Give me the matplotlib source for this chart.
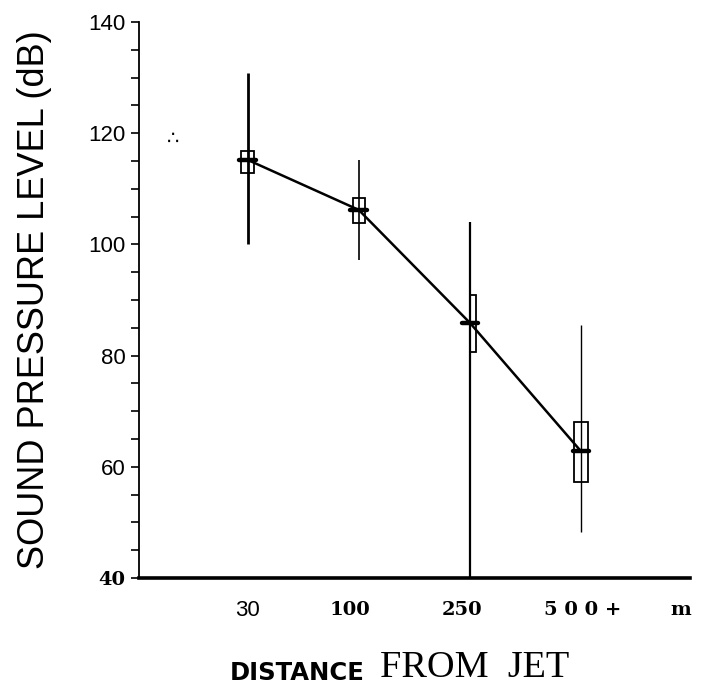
import matplotlib.pyplot as plt
from matplotlib.transforms import blended_transform_factory

# values (dB)
distance_labels = ["30", "100", "250", "5 0 0 +"]
spl_mean = [115.2, 106.2, 85.9, 62.8]
box_low = [112.8, 103.8, 80.6, 57.3]
box_high = [116.8, 108.3, 90.9, 68.1]
whisker_low = [100.0, 97.2, 40.0, 48.3]
whisker_high = [130.8, 115.2, 104.0, 85.5]

y_major = [40, 60, 80, 100, 120, 140]
y_minor = list(range(40, 141, 5))

# styling that mimics the old scan
box_width = [0.12, 0.11, 0.055, 0.12]
box_shift = [0.0, 0.0, 0.03, 0.0]
whisker_lw = [2.0, 1.2, 1.6, 1.0]
label_shift = [0.0, -0.08, -0.07, 0.02]
label_font = [
    dict(family="Liberation Sans", fontsize=16),
    dict(family="DejaVu Serif", fontsize=14, fontweight="bold"),
    dict(family="DejaVu Serif", fontsize=14, fontweight="bold"),
    dict(family="DejaVu Serif", fontsize=14, fontweight="bold"),
]

fig = plt.figure(figsize=(7.01, 6.87), dpi=100)
ax = fig.add_axes([0.198, 0.1587, 0.786, 0.8093])
x = list(range(len(spl_mean)))

for i in x:
    ax.plot([i, i], [whisker_low[i], whisker_high[i]], color="black",
            lw=whisker_lw[i], solid_capstyle="butt", zorder=2)

ax.plot(x, spl_mean, color="black", lw=1.8, zorder=3)

for i in x:
    ax.bar(i + box_shift[i], box_high[i] - box_low[i], bottom=box_low[i],
           width=box_width[i], fill=False, edgecolor="black", lw=1.3, zorder=4)
    ax.plot([i - 0.075, i + 0.075], [spl_mean[i], spl_mean[i]], color="black",
            lw=3.2, solid_capstyle="round", zorder=5)

# stray specks in the original scan
ax.text(-0.67, 119.0, "\u2234", fontsize=14, ha="center", va="center",
        family="DejaVu Sans")

ax.set_xlim(-0.98, 3.98)
ax.set_ylim(40, 140)

ax.spines["top"].set_visible(False)
ax.spines["right"].set_visible(False)
ax.spines["left"].set_linewidth(1.3)
ax.spines["bottom"].set_linewidth(2.6)

ax.set_xticks([])
ax.set_yticks(y_minor, minor=True)
ax.set_yticks(y_major)
ax.tick_params(axis="y", which="both", direction="out", length=6, width=1.2)
ax.set_yticklabels([str(v) for v in y_major], family="Liberation Sans", fontsize=16)
lbl40 = ax.get_yticklabels()[0]
lbl40.set_family("DejaVu Serif")
lbl40.set_fontweight("bold")
lbl40.set_fontsize(14)

trans = blended_transform_factory(ax.transData, ax.transAxes)
for i, lab in enumerate(distance_labels):
    ax.text(i + label_shift[i], -0.058, lab, transform=trans, ha="center",
            va="center", **label_font[i])
ax.text(3.9, -0.058, "m", transform=trans, ha="center", va="center",
        family="DejaVu Serif", fontsize=14, fontweight="bold")

ax.set_ylabel("SOUND PRESSURE LEVEL (dB)", family="Liberation Sans",
              fontsize=26)
ax.yaxis.set_label_coords(-0.158, 0.5)

fig.text(0.328, 0.003, "DISTANCE", family="DejaVu Sans", fontsize=17.5,
         fontweight="bold", ha="left", va="bottom")
fig.text(0.542, 0.003, "FROM  JET", family="Liberation Serif", fontsize=27.5,
         ha="left", va="bottom")

fig.savefig("out.png", dpi=100)
